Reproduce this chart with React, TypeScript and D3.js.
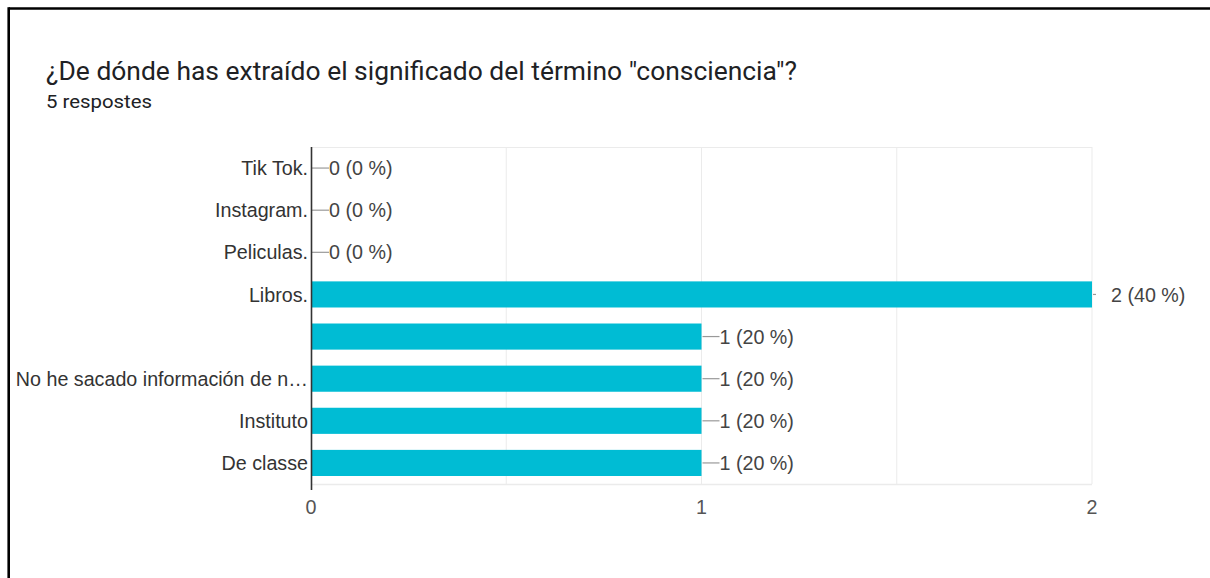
import React from "react";
import * as d3 from "d3";

const categories = [
  "Tik Tok.",
  "Instagram.",
  "Peliculas.",
  "Libros.",
  "",
  "No he sacado información de n…",
  "Instituto",
  "De classe",
];
const counts = [0, 0, 0, 2, 1, 1, 1, 1];
const percents = [0, 0, 0, 40, 20, 20, 20, 20];
const xTicks = [0, 1, 2];
const gridTicks = [0.5, 1, 1.5, 2];
const title = '¿De dónde has extraído el significado del término "consciencia"?';
const subtitle = "5 respostes";

const W = 1210;
const H = 578;
const left = 311;
const right = 1092;
const top = 147;
const bottom = 484;

export default function App() {
  const x = d3.scaleLinear().domain([0, 2]).range([left, right]);
  const y = d3
    .scaleBand<number>()
    .domain(d3.range(categories.length))
    .range([top, bottom])
    .paddingInner(0.38)
    .paddingOuter(0.19);
  const maxV = d3.max(counts) as number;
  const font = "'Liberation Sans', Arial, sans-serif";
  return (
    <div style={{ position: "absolute", left: 0, top: 0 }}>
      <svg width={W} height={H} style={{ display: "block", background: "#fff" }}>
        <rect x={0} y={0} width={W} height={H} fill="#fff" />
        {/* screenshot border */}
        <line x1={8.7} x2={W} y1={8.5} y2={8.5} stroke="#000" strokeWidth={2.6} />
        <line x1={8.7} x2={8.7} y1={7.2} y2={H} stroke="#000" strokeWidth={2.6} />

        <text
          x={46}
          y={80}
          fontFamily="Roboto, sans-serif"
          fontSize={26}
          fill="#202124"
          textLength={751}
          lengthAdjust="spacingAndGlyphs"
        >
          {title}
        </text>
        <text
          x={46}
          y={108}
          fontFamily="Roboto, sans-serif"
          fontSize={19}
          fill="#202124"
          textLength={106}
          lengthAdjust="spacingAndGlyphs"
        >
          {subtitle}
        </text>

        {/* plot frame & grid */}
        <line x1={left} x2={right} y1={top + 0.5} y2={top + 0.5} stroke="#ebebeb" />
        <line x1={left} x2={right} y1={bottom + 0.5} y2={bottom + 0.5} stroke="#ebebeb" strokeWidth={1.5} />
        {gridTicks.map((t) => (
          <line key={t} x1={x(t)} x2={x(t)} y1={top} y2={bottom} stroke="#ebebeb" strokeWidth={1} />
        ))}

        {/* bars */}
        {counts.map((v, i) => (
          <rect
            key={i}
            x={x(0)}
            y={y(i)!}
            width={x(v) - x(0)}
            height={y.bandwidth()}
            fill="#00bcd4"
          />
        ))}

        {/* annotations */}
        {counts.map((v, i) => {
          const cy = (y(i) as number) + y.bandwidth() / 2;
          const x0 = x(v);
          const isMax = v === maxV;
          const stemLen = isMax ? 4 : 18;
          const textX = isMax ? x0 + 19 : x0 + 18;
          return (
            <g key={i}>
              <line x1={x0 + 1} x2={x0 + stemLen} y1={cy} y2={cy} stroke="#999" strokeWidth={1.2} />
              <text
                x={textX}
                y={cy}
                dy="0.36em"
                fontFamily={font}
                fontSize={19.7}
                fill="#444"
              >
                {`${v} (${percents[i]} %)`}
              </text>
            </g>
          );
        })}

        {/* category labels */}
        {categories.map((c, i) => (
          <text
            key={i}
            x={left - 3}
            y={(y(i) as number) + y.bandwidth() / 2}
            dy="0.36em"
            textAnchor="end"
            fontFamily={font}
            fontSize={19.7}
            fill="#333"
          >
            {c}
          </text>
        ))}

        {/* zero axis */}
        <line x1={left + 0.5} x2={left + 0.5} y1={top} y2={bottom + 6} stroke="#333" strokeWidth={1.6} />

        {/* x tick labels */}
        {xTicks.map((t) => (
          <text
            key={t}
            x={x(t)}
            y={507}
            dy="0.36em"
            textAnchor="middle"
            fontFamily={font}
            fontSize={19.7}
            fill="#555"
          >
            {t}
          </text>
        ))}
      </svg>
    </div>
  );
}
